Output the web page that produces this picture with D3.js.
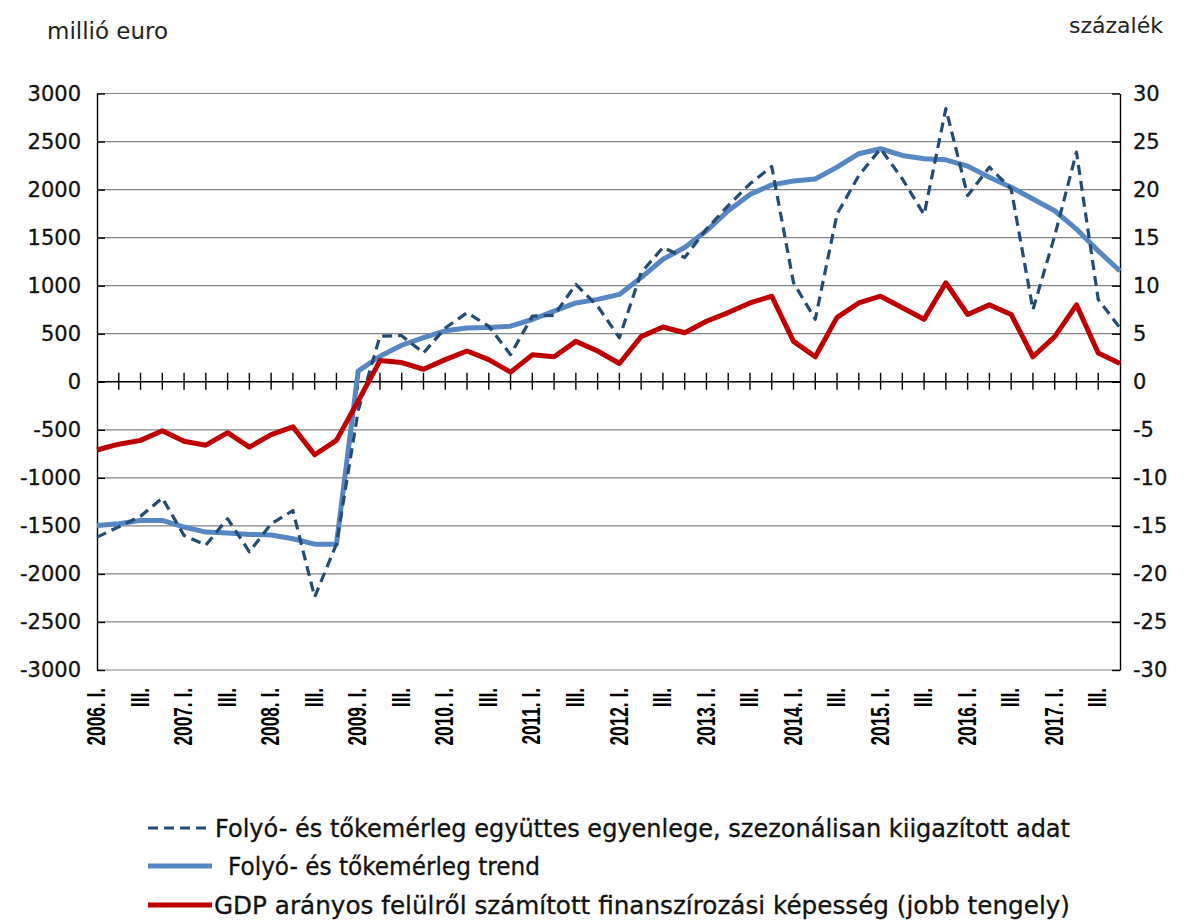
<!DOCTYPE html>
<html>
<head>
<meta charset="utf-8">
<script src="https://cdn.jsdelivr.net/npm/d3@7/dist/d3.min.js"></script>
<style>
  html, body { margin: 0; padding: 0; background: #ffffff; }
  svg { display: block; }
</style>
</head>
<body>
<svg id="chart" width="1185" height="923"></svg>
<script>
// ---------- DATA ----------
const xLabels = [
  "2006. I.", "", "III.", "",
  "2007. I.", "", "III.", "",
  "2008. I.", "", "III.", "",
  "2009. I.", "", "III.", "",
  "2010. I.", "", "III.", "",
  "2011. I.", "", "III.", "",
  "2012. I.", "", "III.", "",
  "2013. I.", "", "III.", "",
  "2014. I.", "", "III.", "",
  "2015. I.", "", "III.", "",
  "2016. I.", "", "III.", "",
  "2017. I.", "", "III.", ""
];

// Folyó- és tőkemérleg együttes egyenlege, szezonálisan kiigazított (millió euro)
const balanceSA = [
  -1617, -1510, -1400, -1210, -1600, -1700, -1425, -1770,
  -1480, -1340, -2240, -1690, -300, 474, 480, 300,
  560, 718, 578, 282, 683, 690, 1014, 787,
  457, 1136, 1397, 1293, 1589, 1833, 2060, 2240,
  1031, 650, 1745, 2146, 2425, 2111, 1740, 2843,
  1937, 2234, 2007, 750, 1519, 2390, 857, 560
];

// Folyó- és tőkemérleg trend (millió euro)
const balanceTrend = [
  -1495, -1477, -1443, -1443, -1512, -1565, -1575, -1589,
  -1595, -1634, -1690, -1690, 110, 265, 380, 460,
  530, 560, 565, 578, 648, 735, 820, 857,
  909, 1084, 1275, 1397, 1571, 1780, 1950, 2049,
  2090, 2110, 2234, 2373, 2425, 2355, 2320, 2310,
  2244, 2129, 2024, 1902, 1780, 1589, 1362, 1153
];

// GDP arányos felülről számított finanszírozási képesség (százalék, jobb tengely)
const lendingGDP = [
  -7.1, -6.5, -6.1, -5.1, -6.2, -6.6, -5.3, -6.8,
  -5.5, -4.7, -7.6, -6.1, -2.0, 2.2, 2.0, 1.3,
  2.3, 3.2, 2.3, 1.0, 2.8, 2.6, 4.2, 3.2,
  1.9, 4.7, 5.7, 5.1, 6.3, 7.2, 8.2, 8.9,
  4.2, 2.6, 6.7, 8.2, 8.9, 7.7, 6.5, 10.3,
  7.0, 8.0, 7.0, 2.6, 4.7, 8.0, 3.0, 1.9
];

const leftTicks = [-3000, -2500, -2000, -1500, -1000, -500, 0, 500, 1000, 1500, 2000, 2500, 3000];
const rightTicks = [-30, -25, -20, -15, -10, -5, 0, 5, 10, 15, 20, 25, 30];

const leftUnit = "millió euro";
const rightUnit = "százalék";
const legendLabels = [
  "Folyó- és tőkemérleg együttes egyenlege, szezonálisan kiigazított adat",
  "Folyó- és tőkemérleg trend",
  "GDP arányos felülről számított finanszírozási képesség (jobb tengely)"
];

// ---------- LAYOUT ----------
const L = 97, R = 1120, T = 93.5, B = 670;
const colDash = "#234b74", colTrend = "#5787c2", colRed = "#c00000";
const numFont = "'DejaVu Sans', sans-serif";
const fmt = d => String(d);

const svg = d3.select("#chart");
const idx = d3.range(xLabels.length);
const x = d3.scalePoint().domain(idx).range([L, R]);
const yL = d3.scaleLinear().domain([-3000, 3000]).range([B, T]);
const yR = d3.scaleLinear().domain([-30, 30]).range([B, T]);

// gridlines
svg.append("g").selectAll("line").data(leftTicks.filter(v => v !== 0)).join("line")
  .attr("x1", L).attr("x2", R)
  .attr("y1", d => yL(d)).attr("y2", d => yL(d))
  .attr("stroke", "#848484").attr("stroke-width", 1.2);

// left axis
const gL = svg.append("g").attr("transform", `translate(${L},0)`)
  .call(d3.axisLeft(yL).tickValues(leftTicks).tickSizeInner(-8).tickSizeOuter(0).tickPadding(16).tickFormat(fmt));
gL.select(".domain").attr("stroke", "#000").attr("stroke-width", 1.4);
gL.selectAll(".tick line").attr("stroke", "#000").attr("stroke-width", 1.4);
gL.selectAll(".tick text").attr("font-family", numFont).attr("font-size", 21).attr("fill", "#111")
  .attr("stroke", "#111").attr("stroke-width", 0.3);

// right axis
const gR = svg.append("g").attr("transform", `translate(${R},0)`)
  .call(d3.axisRight(yR).tickValues(rightTicks).tickSizeInner(-8).tickSizeOuter(0).tickPadding(13).tickFormat(fmt));
gR.select(".domain").attr("stroke", "#000").attr("stroke-width", 1.4);
gR.selectAll(".tick line").attr("stroke", "#000").attr("stroke-width", 1.4);
gR.selectAll(".tick text").attr("font-family", numFont).attr("font-size", 21).attr("fill", "#111")
  .attr("stroke", "#111").attr("stroke-width", 0.3);

// zero axis with cross ticks
const y0 = yL(0);
svg.append("line").attr("x1", L).attr("x2", R).attr("y1", y0).attr("y2", y0)
  .attr("stroke", "#000").attr("stroke-width", 1.4);
svg.append("g").selectAll("line").data(idx.slice(1, idx.length - 1)).join("line")
  .attr("x1", d => x(d)).attr("x2", d => x(d))
  .attr("y1", y0 - 9).attr("y2", y0 + 8)
  .attr("stroke", "#000").attr("stroke-width", 1.4);

// x labels (rotated)
svg.append("g").selectAll("text").data(idx.filter(i => xLabels[i] !== "")).join("text")
  .attr("transform", d => `translate(${x(d)},688) rotate(-90) scale(0.69,1)`)
  .attr("text-anchor", "end")
  .attr("dominant-baseline", "central")
  .attr("font-family", "'Liberation Sans', Arial, sans-serif")
  .attr("font-weight", "bold")
  .attr("font-size", 25)
  .attr("fill", "#000")
  .text(d => xLabels[d]);

// series
const lineL = d3.line().x((d, i) => x(i)).y(d => yL(d));
const lineR = d3.line().x((d, i) => x(i)).y(d => yR(d));

svg.append("path").datum(balanceTrend).attr("d", lineL)
  .attr("fill", "none").attr("stroke", colTrend).attr("stroke-width", 5)
  .attr("stroke-linejoin", "round");
svg.append("path").datum(balanceSA).attr("d", lineL)
  .attr("fill", "none").attr("stroke", colDash).attr("stroke-width", 3.2)
  .attr("stroke-dasharray", "10,6").attr("stroke-linejoin", "round");
svg.append("path").datum(lendingGDP).attr("d", lineR)
  .attr("fill", "none").attr("stroke", colRed).attr("stroke-width", 5)
  .attr("stroke-linejoin", "round");

// unit labels
svg.append("text").attr("x", 47).attr("y", 39)
  .attr("font-family", numFont).attr("font-size", 23).attr("fill", "#222")
  .text(leftUnit);
svg.append("text").attr("x", 1163).attr("y", 33).attr("text-anchor", "end")
  .attr("font-family", numFont).attr("font-size", 22).attr("fill", "#222")
  .text(rightUnit);

// legend
const legend = [
  { y: 828, color: colDash, w: 3.2, dash: "10,6", tx: 215, len: 855 },
  { y: 866, color: colTrend, w: 5, dash: null, tx: 228, len: 312 },
  { y: 905, color: colRed, w: 5, dash: null, tx: 214, len: 856 }
];
const lg = svg.append("g");
legend.forEach((d, i) => {
  lg.append("line").attr("x1", 148).attr("x2", 212).attr("y1", d.y).attr("y2", d.y)
    .attr("stroke", d.color).attr("stroke-width", d.w)
    .attr("stroke-dasharray", d.dash);
  lg.append("text").attr("x", d.tx).attr("y", d.y).attr("dy", "0.36em")
    .attr("font-family", numFont).attr("font-size", 24).attr("fill", "#111")
    .attr("stroke", "#111").attr("stroke-width", 0.3)
    .attr("textLength", d.len).attr("lengthAdjust", "spacingAndGlyphs")
    .text(legendLabels[i]);
});
</script>
</body>
</html>
